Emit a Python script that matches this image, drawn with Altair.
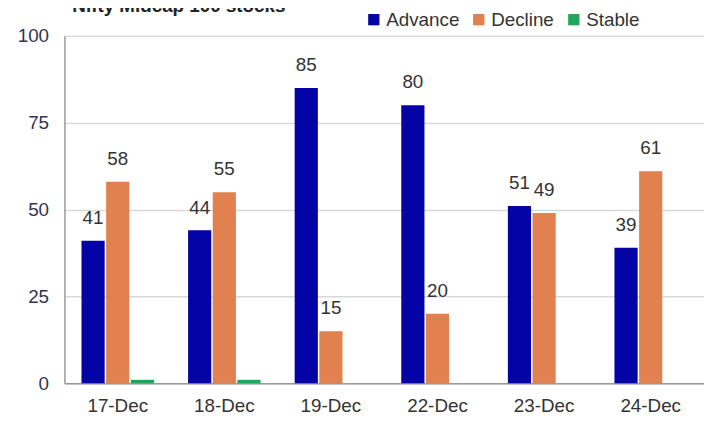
import altair as alt
import pandas as pd

dates = ["17-Dec", "18-Dec", "19-Dec", "22-Dec", "23-Dec", "24-Dec"]
advance = [41, 44, 85, 80, 51, 39]
decline = [58, 55, 15, 20, 49, 61]
stable = [1, 1, 0, 0, 0, 0]
series = ["Advance", "Decline", "Stable"]
colors = ["#0303A6", "#E0814F", "#1FA65A"]
title_text = "Nifty Midcap 100 stocks"

rows = []
for i, d in enumerate(dates):
    for s, vals in zip(series, [advance, decline, stable]):
        rows.append({"date": d, "series": s, "value": vals[i]})
df = pd.DataFrame(rows)

FONT = "Liberation Sans"

x = alt.X("date:N", sort=dates, title=None,
          scale=alt.Scale(paddingInner=0.32, paddingOuter=0.16),
          axis=alt.Axis(labelAngle=0, labelFontSize=19, labelColor="#333333",
                        labelFont=FONT, ticks=False, labelPadding=14,
                        domainColor="#9a9a9a", domainWidth=1.5))
xo = alt.XOffset("series:N", sort=series, scale=alt.Scale(paddingInner=0.06))

base = alt.Chart(df)

bars = base.mark_bar().encode(
    x=x,
    xOffset=xo,
    y=alt.Y("value:Q", title=None,
            scale=alt.Scale(domain=[0, 100], nice=False),
            axis=alt.Axis(values=[0, 25, 50, 75, 100], labelFontSize=19,
                          labelColor="#333355", labelFont=FONT, ticks=False,
                          labelPadding=16, gridColor="#d9d9d9", gridWidth=1.5,
                          domainColor="#9a9a9a", domainWidth=1.5)),
    color=alt.Color("series:N", sort=series,
                    scale=alt.Scale(domain=series, range=colors),
                    legend=alt.Legend(title=None, orient="none", direction="horizontal",
                                      legendX=303, legendY=-26, symbolType="square",
                                      symbolSize=130, symbolStrokeWidth=0,
                                      labelFontSize=19, labelFont=FONT,
                                      labelColor="#333333", columnPadding=10,
                                      labelOffset=3, padding=0)),
)

labels = base.transform_filter(alt.datum.series != "Stable").mark_text(
    baseline="bottom", dy=-13, fontSize=19, font=FONT, color="#333333"
).encode(
    x=alt.X("date:N", sort=dates),
    xOffset=xo,
    y="value:Q",
    text="value:Q",
)

title = alt.Chart(pd.DataFrame({"t": [title_text]})).mark_text(
    align="left", baseline="alphabetic", fontSize=19, fontWeight="bold",
    font=FONT, color="#222222"
).encode(text="t:N", x=alt.value(8), y=alt.value(-24))

chart = alt.layer(bars, labels, title).properties(
    width=646, height=351,
    autosize=alt.AutoSizeParams(type="none"),
    padding={"left": 57, "top": 26, "right": 0, "bottom": 30},
).configure_view(stroke=None)

chart.save("out.html", embed_options={"renderer": "svg", "actions": False})
